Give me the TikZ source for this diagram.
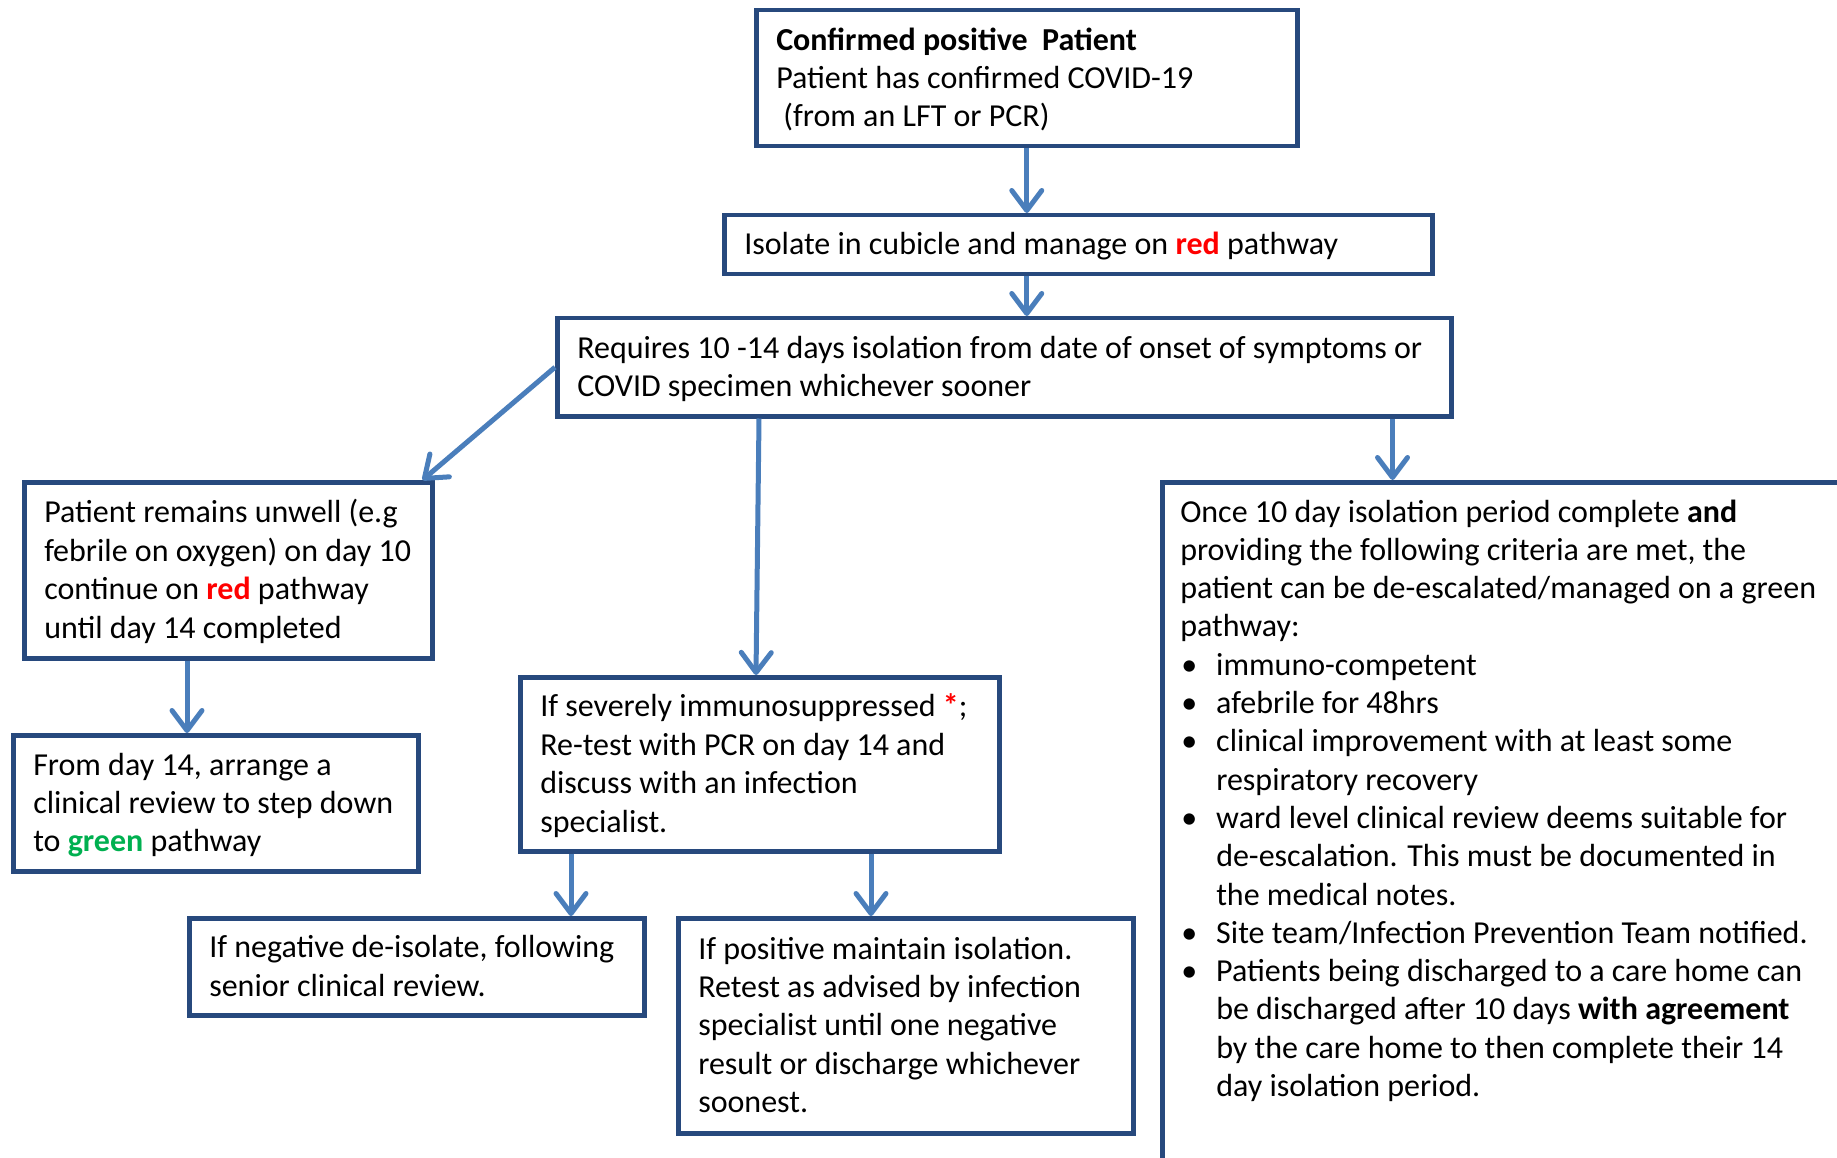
\documentclass[tikz,border=0pt]{standalone}
\usepackage{fontspec}
\setmainfont{Carlito}
\usetikzlibrary{arrows.meta}
\definecolor{boxc}{HTML}{27497D}
\definecolor{arrc}{HTML}{4A7EBB}
\definecolor{redt}{HTML}{FF0000}
\definecolor{grnt}{HTML}{00B050}
\newcommand{\bul}{\hspace*{1pt}\makebox[35pt][l]{\textbullet}}
\newcommand{\bin}{\hspace*{36pt}}
\newcommand{\bx}[2]{\raisebox{0pt}[\dimexpr\height+5pt][\depth]{\makebox[#1][l]{\begin{tabular}{@{}l@{}}#2\end{tabular}}}}
\tikzset{
  box/.style={draw=boxc, line width=4.5pt, fill=white, inner xsep=20pt, inner ysep=0pt, anchor=north west,
    font=\fontsize{32}{38.4}\selectfont},
  arr/.style={draw=arrc, line width=5pt, -{Straight Barb[length=20pt,width=30pt,round]}}
}
\begin{document}
\begin{tikzpicture}[x=1pt,y=-1pt]
\useasboundingbox (0,0) rectangle (1837,1158);
\node[box, minimum height=136pt] (b1) at (754,8)
  {\bx{501pt}{\textbf{Confirmed positive\ \ Patient}\\Patient has confirmed COVID-19\\\ (from an LFT or PCR)}};
\node[box, minimum height=59pt] (b2) at (722,213)
  {\bx{668pt}{Isolate in cubicle and manage on \textcolor{redt}{\textbf{red}} pathway}};
\node[box, minimum height=98pt] (b3) at (555,316)
  {\bx{854pt}{Requires 10 -14 days isolation from date of onset of symptoms or\\COVID specimen whichever sooner}};
\node[box, minimum height=176pt] (b4) at (22,480)
  {\bx{368pt}{Patient remains unwell (e.g\\febrile on oxygen) on day 10\\continue on \textcolor{redt}{\textbf{red}} pathway\\until day 14 completed}};
\node[box, minimum height=136pt] (b5) at (11,733)
  {\bx{365pt}{From day 14, arrange a\\clinical review to step down\\to \textcolor{grnt}{\textbf{green}} pathway}};
\node[box, minimum height=174pt] (b6) at (518,675)
  {\bx{439pt}{If severely immunosuppressed \textcolor{redt}{\textbf{*}};\\Re-test with PCR on day 14 and\\discuss with an infection\\specialist.}};
\node[box, minimum height=97pt] (b7) at (187,916)
  {\bx{415pt}{If negative de-isolate, following\\senior clinical review.}};
\node[box, minimum height=215pt] (b8) at (676,916)
  {\bx{415pt}{If positive maintain isolation.\\Retest as advised by infection\\specialist until one negative\\result or discharge whichever\\soonest.}};
\node[box, inner xsep=18pt, inner ysep=13pt, font=\fontsize{32}{38.3}\selectfont] (b9) at (1160,480)
  {\begin{minipage}[t][700pt][t]{700pt}\raggedright\strut Once 10 day isolation period complete \textbf{and}\\
providing the following criteria are met, the\\
patient can be de-escalated/managed on a green\\
pathway:\\
\bul immuno-competent\\
\bul afebrile for 48hrs\\
\bul clinical improvement with at least some\\
\bin respiratory recovery\\
\bul ward level clinical review deems suitable for\\
\bin de-escalation. This must be documented in\\
\bin the medical notes.\\
\bul Site team/Infection Prevention Team notified.\\
\bul Patients being discharged to a care home can\\
\bin be discharged after 10 days \textbf{with agreement}\\
\bin by the care home to then complete their 14\\
\bin day isolation period.\end{minipage}};
% connector start points
\coordinate (s39) at ([xshift=-61pt]b3.south east);
\coordinate (s36) at ([xshift=204pt]b3.south west);
\coordinate (s45) at ([xshift=165pt]b4.south west);
\coordinate (s67) at ([xshift=53pt]b6.south west);
\coordinate (s68) at ([xshift=353pt]b6.south west);
\coordinate (t4) at ([xshift=-12pt]b4.north east);
\coordinate (t6) at ([xshift=238pt]b6.north west);
% connectors
\draw[arr] (b1.south) -- (b1.south |- b2.north);
\draw[arr] (b2.south -| b1.south) -- (b3.north -| b1.south);
\draw[arr] (b3.west) -- (t4);
\draw[arr] (s36) -- (t6);
\draw[arr] (s39) -- (b9.north -| s39);
\draw[arr] (s45) -- (b5.north -| s45);
\draw[arr] (s67) -- (b7.north -| s67);
\draw[arr] (s68) -- (b8.north -| s68);
\end{tikzpicture}
\end{document}
